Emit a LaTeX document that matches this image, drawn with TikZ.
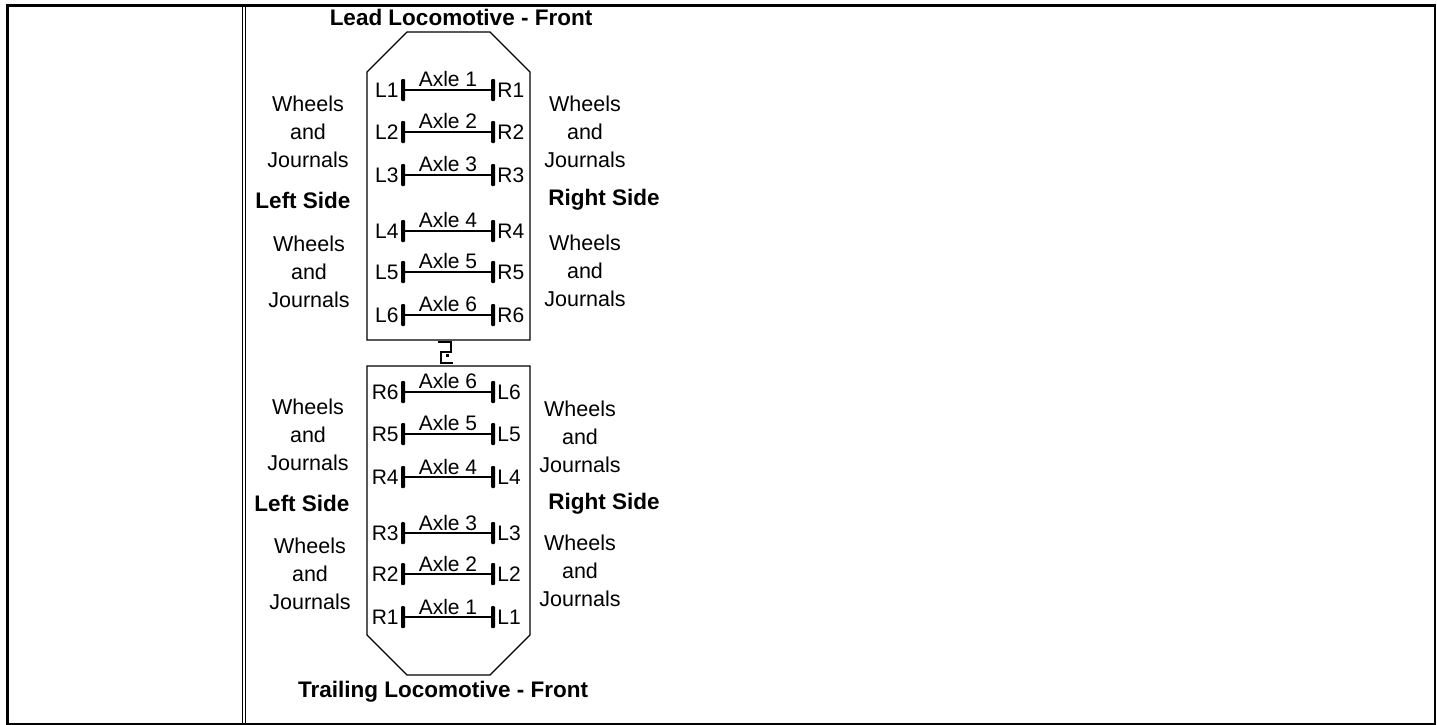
\documentclass[tikz,border=0pt]{standalone}
\usepackage{fontspec}
\setmainfont{Liberation Sans}
\usetikzlibrary{positioning}

\tikzset{
	wheel/.style={fill=black, inner sep=0pt, minimum width=4pt, minimum height=22pt, rounded corners=1pt},
	axlelbl/.style={font=\fontsize{21}{21}\selectfont, inner sep=1pt},
	sidelbl/.style={font=\fontsize{21.5}{28}\selectfont, align=center},
	boldlbl/.style={font=\fontsize{22.5}{24}\selectfont\bfseries},
	body/.style={line width=1.2pt},
	axle/.style={line width=1.6pt},
}

\begin{document}
\begin{tikzpicture}[x=1pt,y=-1pt]
	\useasboundingbox (0,0) rectangle (1437,725);
	% table frame
	\draw[line width=3pt] (6,5.5) -- (1436,5.5);
	\draw[line width=3pt] (7.5,4) -- (7.5,725);
	\draw[line width=1.5pt] (6,724) -- (1436,724);
	\draw[line width=2pt] (1435,4) -- (1435,725);
	\draw[line width=1.2pt] (242.5,7) -- (242.5,724);
	\draw[line width=1.2pt] (245.5,7) -- (245.5,724);
	% lead locomotive
	\draw[body] (407,32) -- (490,32) -- (530,72) -- (530,340) -- (367,340) -- (367,72) -- cycle;
	\node[boldlbl] (leadfront) at (461,17) {Lead Locomotive - Front};
	\foreach \n/\y in {1/90,2/132,3/175,4/231,5/272,6/315}{
		\node[wheel] (ul\n) at (403,\y) {};
		\node[wheel] (ur\n) at (493,\y) {};
		\draw[axle] (ul\n) -- node[axlelbl, above=1pt] (ua\n) {Axle \n} (ur\n);
		\node[axlelbl, left=1pt of ul\n] (ulw\n) {L\n};
		\node[axlelbl, right=1pt of ur\n] (urw\n) {R\n};
	}
	\node[sidelbl] (ulwj1) at (308,132) {Wheels\\and\\Journals};
	\node[boldlbl] (ulside) at (303,200) {Left Side};
	\node[sidelbl] (ulwj2) at (309,272) {Wheels\\and\\Journals};
	\node[sidelbl] (urwj1) at (585,132) {Wheels\\and\\Journals};
	\node[boldlbl] (urside) at (604,200) {Right Side};
	\node[sidelbl] (urwj2) at (585,271) {Wheels\\and\\Journals};
	% coupler
	\draw[line width=2.2pt] (438,342) -- (451,342) -- (451,352) -- (441,352) -- (441,363) -- (453,363);
	\fill (446,354) rectangle (448.5,356.5);
	% trailing locomotive
	\draw[body] (367,366) -- (530,366) -- (530,635) -- (490,675) -- (407,675) -- (367,635) -- cycle;
	\node[boldlbl] (trailfront) at (443,692) {Trailing Locomotive - Front};
	\foreach \n/\y in {6/392,5/434,4/477,3/533,2/574,1/617}{
		\node[wheel] (tl\n) at (403,\y) {};
		\node[wheel] (tr\n) at (493,\y) {};
		\draw[axle] (tl\n) -- node[axlelbl, above=1pt] (ta\n) {Axle \n} (tr\n);
		\node[axlelbl, left=1pt of tl\n] (tlw\n) {R\n};
		\node[axlelbl, right=1pt of tr\n] (trw\n) {L\n};
	}
	\node[sidelbl] (tlwj1) at (308,435) {Wheels\\and\\Journals};
	\node[boldlbl] (tlside) at (302,503) {Left Side};
	\node[sidelbl] (tlwj2) at (310,574) {Wheels\\and\\Journals};
	\node[sidelbl] (trwj1) at (580,437) {Wheels\\and\\Journals};
	\node[boldlbl] (trside) at (604,504) {Right Side};
	\node[sidelbl] (trwj2) at (580,571) {Wheels\\and\\Journals};
\end{tikzpicture}
\end{document}
